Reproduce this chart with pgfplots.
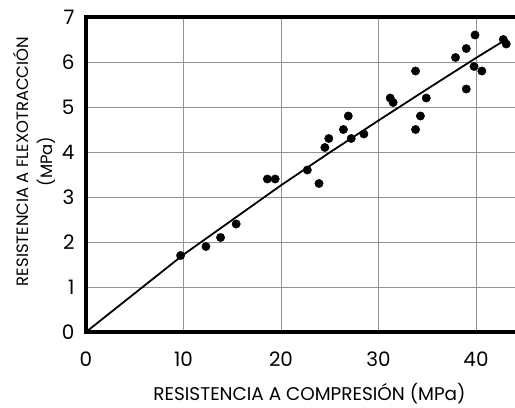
\documentclass[border=0pt]{standalone}
\usepackage{pgfplots}
\pgfplotsset{compat=1.18}
\usepackage{fontspec}
\setmainfont{Poppins}
\begin{document}
\begin{tikzpicture}
\useasboundingbox (0,0) rectangle (515bp,408bp);
\begin{axis}[
  at={(86bp,76bp)}, anchor=south west,
  width=429bp, height=315bp, scale only axis,
  xmin=0, xmax=44, ymin=0, ymax=7,
  xtick={0,10,20,30,40}, ytick={0,1,2,3,4,5,6,7},
  grid=major,
  grid style={gray!85, line width=0.8bp},
  major tick length=0pt,
  axis line style={draw=none},
  /pgf/number format/assume math mode=true,
  tick label style={font=\fontsize{20}{22}\selectfont},
  xticklabel style={yshift=-16bp},
  yticklabel style={xshift=-8bp},
  xlabel={RESISTENCIA A COMPRESIÓN (MPa)},
  ylabel={RESISTENCIA A FLEXOTRACCIÓN\\(MPa)},
  ylabel style={align=center, font=\fontsize{16.5}{25}\selectfont, yshift=-1bp, xshift=13bp},
  xlabel style={font=\fontsize{18.5}{20}\selectfont, yshift=-10bp, xshift=9bp},
  clip=false,
]
\addplot[black, line width=1.8bp, no marks] coordinates {
(0,0) (10,1.72) (20,3.26) (25,3.99) (30,4.70) (35,5.40) (40,6.09) (43,6.49)};
\addplot[only marks, mark=*, mark size=4.2bp, black] coordinates {
(9.7,1.70) (12.3,1.90) (13.8,2.10) (15.4,2.40)
(18.6,3.40) (19.4,3.40)
(22.7,3.60) (23.9,3.30) (24.5,4.10) (24.9,4.30)
(26.4,4.50) (26.9,4.80) (27.2,4.30) (28.5,4.40)
(31.2,5.20) (31.5,5.10)
(33.8,5.80) (33.8,4.50) (34.3,4.80) (34.9,5.20)
(37.9,6.10) (39.0,6.30) (39.0,5.40)
(39.9,6.60) (39.8,5.90) (40.6,5.80)
(42.8,6.50) (43.1,6.40)};
\end{axis}
\draw[line width=4bp, line cap=rect] (515bp,391bp) -- (86bp,391bp) -- (86bp,76bp) -- (515bp,76bp);
\end{tikzpicture}
\end{document}
